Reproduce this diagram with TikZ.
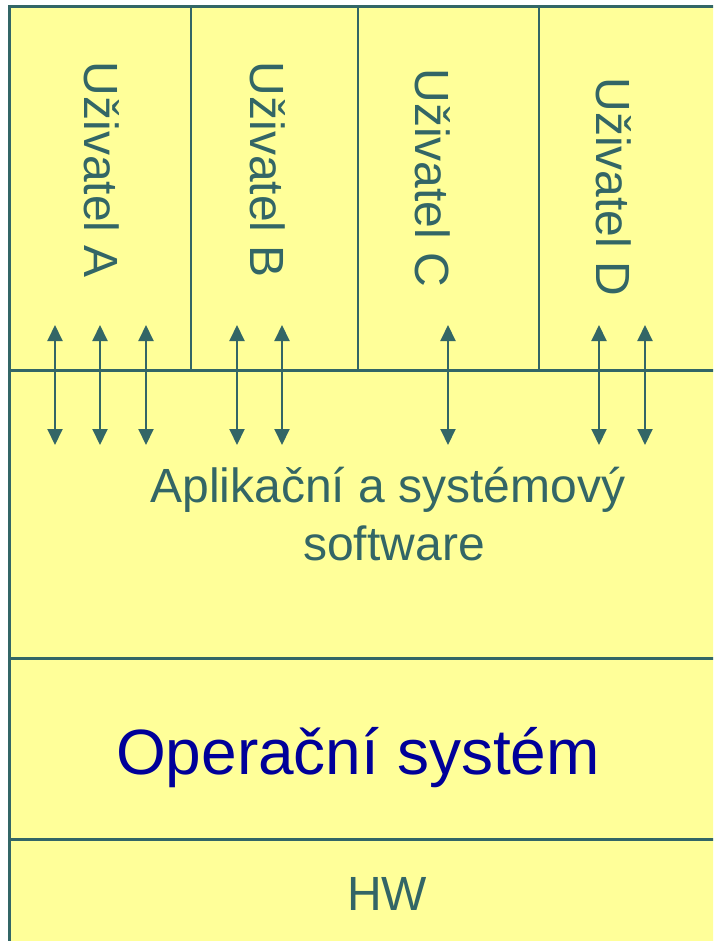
\documentclass[tikz,border=0pt]{standalone}
\usepackage{fontspec}
\setmainfont{Liberation Sans}
\usetikzlibrary{arrows.meta}
\definecolor{teal}{HTML}{336666}
\definecolor{pale}{HTML}{FFFF99}
\definecolor{osblue}{HTML}{000099}
\tikzset{
  label/.style={text=teal, inner sep=0pt, font=\fontsize{48}{58}\selectfont},
  user/.style={label, rotate=-90},
  link/.style={draw=teal, line width=2pt, {Triangle[width=15pt,length=16pt]}-{Triangle[width=15pt,length=16pt]}}
}
\begin{document}
\begin{tikzpicture}[x=1pt,y=-1pt]
\useasboundingbox (0,0) rectangle (713,941);
\clip (0,0) rectangle (713,941);
\fill[white] (0,0) rectangle (713,941);
\draw[teal, line width=3pt, fill=pale] (9,7) rectangle (780,1000);

% layers
\draw[teal, line width=3pt] (9,370) -- (780,370);
\draw[teal, line width=3pt] (9,658) -- (780,658);
\draw[teal, line width=3pt] (9,839) -- (780,839);
\foreach \x in {191,358,539}
  \draw[teal, line width=2pt] (\x,7) -- (\x,370);

\node[user] (userA) at (102,170) {Uživatel A};
\node[user] (userB) at (268,170) {Uživatel B};
\node[user] (userC) at (433,178) {Uživatel C};
\node[user] (userD) at (614,187) {Uživatel D};

\node[label, anchor=base] (apps) at (388,502) {Aplikační a systémový};
\node[label, anchor=base] (soft) at (394,560) {software};
\node[label, anchor=base, text=osblue, font=\fontsize{64}{76}\selectfont] (os) at (358,774) {Operační systém};
\node[label, anchor=base] (hw) at (387,910) {HW};

\foreach \x [count=\i] in {55,100,146,237,282,448,599,645} {
  \coordinate (top\i) at (\x,325);
  \coordinate (bot\i) at (\x,445);
  \draw[link] (top\i) -- (bot\i);
}
\end{tikzpicture}
\end{document}
